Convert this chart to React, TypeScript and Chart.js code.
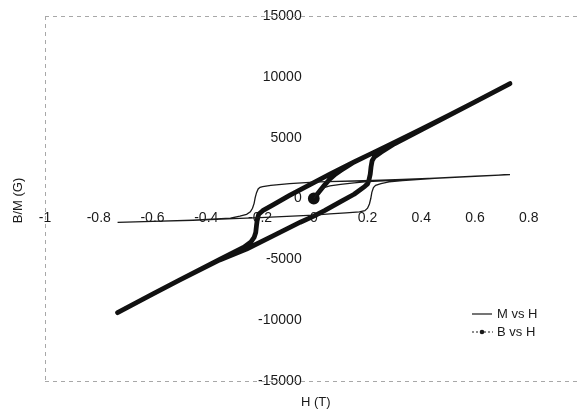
import React, { useEffect, useRef } from "react";
import { Chart, registerables } from "chart.js";

Chart.register(...registerables);

// ---- Data ----
// M vs H: initial curve, descending branch, ascending branch
const mInitH = [0, 0.01, 0.02, 0.035, 0.06, 0.1, 0.15, 0.2, 0.26, 0.33, 0.45, 0.6, 0.73];
const mInitV = [0, 350, 650, 880, 1030, 1160, 1280, 1380, 1460, 1540, 1680, 1840, 1970];
const mDownH = [0.73, 0.6, 0.45, 0.33, 0.25, 0.15, 0.05, 0, -0.09, -0.16, -0.19, -0.2, -0.207, -0.213, -0.218, -0.222, -0.228, -0.236, -0.25, -0.275, -0.31, -0.45, -0.6, -0.73];
const mDownV = [1970, 1840, 1680, 1560, 1500, 1440, 1380, 1340, 1220, 1080, 980, 920, 780, 480, 80, -400, -800, -1100, -1300, -1450, -1620, -1780, -1880, -1960];
const mUpH = [-0.73, -0.6, -0.45, -0.3, -0.2, -0.1, 0, 0.06, 0.12, 0.17, 0.19, 0.2, 0.207, 0.212, 0.216, 0.222, 0.23, 0.25, 0.28, 0.33, 0.45, 0.6, 0.73];
const mUpV = [-1960, -1880, -1790, -1650, -1580, -1470, -1360, -1260, -1180, -1100, -1000, -800, -450, 0, 500, 900, 1080, 1230, 1360, 1480, 1660, 1830, 1970];

// B vs H: initial curve, descending branch, ascending branch
const bInitH = [0, 0.02, 0.04, 0.06, 0.08, 0.1, 0.15, 0.22, 0.3, 0.4, 0.5, 0.6, 0.73];
const bInitV = [0, 550, 1100, 1600, 2000, 2300, 3000, 3750, 4600, 5700, 6800, 7950, 9450];
const bDownH = [0.73, 0.6, 0.5, 0.4, 0.3, 0.22, 0.15, 0.06, 0, -0.09, -0.15, -0.19, -0.205, -0.21, -0.213, -0.216, -0.222, -0.235, -0.26, -0.35, -0.5, -0.6, -0.73];
const bDownV = [9450, 7950, 6800, 5700, 4600, 3750, 3000, 2000, 1300, 250, -500, -1000, -1300, -1700, -2200, -2800, -3200, -3600, -4000, -5000, -6700, -7850, -9380];
const bUpH = [-0.73, -0.6, -0.5, -0.35, -0.25, -0.15, -0.05, 0, 0.04, 0.1, 0.15, 0.19, 0.2, 0.205, 0.21, 0.213, 0.217, 0.225, 0.25, 0.3, 0.4, 0.5, 0.6, 0.73];
const bUpV = [-9380, -7850, -6700, -5050, -4150, -3050, -1950, -1450, -1000, -250, 350, 1000, 1200, 1500, 2000, 2600, 3100, 3400, 3800, 4500, 5650, 6800, 7950, 9450];

const xTickValues = [-1, -0.8, -0.6, -0.4, -0.2, 0, 0.2, 0.4, 0.6, 0.8];
const xTickLabels = ["-1", "-0.8", "-0.6", "-0.4", "-0.2", "0", "0.2", "0.4", "0.6", "0.8"];
const yTickValues = [-15000, -10000, -5000, 0, 5000, 10000, 15000];
const yTickLabels = ["-15000", "-10000", "-5000", "0", "5000", "10000", "15000"];

const seriesNames = ["M vs H", "B vs H"];
const xTitle = "H (T)";
const yTitle = "B/M (G)";

const toPoints = (hs: number[][], vs: number[][]) => {
  const out: { x: number; y: number }[] = [];
  hs.forEach((h, k) => h.forEach((x, i) => out.push({ x, y: vs[k][i] })));
  return out;
};

const FONT = "'Liberation Sans', Arial, sans-serif";
const INK = "#1a1a1a";
const CANVAS_W = 586;

const decorPlugin = {
  id: "decor",
  beforeDatasetsDraw(chart: any) {
    const { ctx, chartArea } = chart;
    ctx.save();
    ctx.strokeStyle = "#a8a8a8";
    ctx.lineWidth = 1;
    ctx.setLineDash([4, 4]);
    ctx.beginPath();
    ctx.moveTo(chartArea.left, chartArea.top + 0.5);
    ctx.lineTo(chartArea.right, chartArea.top + 0.5);
    ctx.moveTo(chartArea.left, chartArea.bottom + 0.5);
    ctx.lineTo(chartArea.right, chartArea.bottom + 0.5);
    ctx.moveTo(chartArea.left + 0.5, chartArea.top);
    ctx.lineTo(chartArea.left + 0.5, chartArea.bottom);
    ctx.stroke();
    ctx.restore();
  },
  afterDraw(chart: any) {
    const { ctx, chartArea } = chart;
    ctx.save();
    ctx.fillStyle = INK;
    ctx.font = `13px ${FONT}`;
    // axis titles
    ctx.textAlign = "center";
    ctx.textBaseline = "middle";
    ctx.fillText(xTitle, chart.scales.x.getPixelForValue(0) + 2, chartArea.bottom + 21);
    ctx.save();
    ctx.translate(18, chart.scales.y.getPixelForValue(0) + 2);
    ctx.rotate(-Math.PI / 2);
    ctx.fillText(yTitle, 0, 0);
    ctx.restore();
    // legend
    const lx = 472;
    const ly1 = 314;
    const ly2 = 332;
    ctx.strokeStyle = INK;
    ctx.lineWidth = 1.2;
    ctx.beginPath();
    ctx.moveTo(lx, ly1);
    ctx.lineTo(lx + 20, ly1);
    ctx.stroke();
    ctx.setLineDash([2, 2]);
    ctx.lineWidth = 1;
    ctx.beginPath();
    ctx.moveTo(lx, ly2);
    ctx.lineTo(lx + 21, ly2);
    ctx.stroke();
    ctx.setLineDash([]);
    ctx.beginPath();
    ctx.arc(lx + 10, ly2, 2.3, 0, Math.PI * 2);
    ctx.fill();
    ctx.textAlign = "left";
    ctx.font = `13px ${FONT}`;
    ctx.fillText(seriesNames[0], lx + 25, ly1);
    ctx.fillText(seriesNames[1], lx + 25, ly2);
    ctx.restore();
  },
};

export default function App() {
  const ref = useRef<HTMLCanvasElement | null>(null);
  useEffect(() => {
    if (!ref.current) return;
    const mData = toPoints([mInitH, mDownH, mUpH], [mInitV, mDownV, mUpV]);
    const bData = toPoints([bInitH, bDownH, bUpH], [bInitV, bDownV, bUpV]);
    const chart = new Chart(ref.current, {
      type: "scatter",
      data: {
        datasets: [
          {
            label: seriesNames[0],
            data: mData,
            showLine: true,
            borderColor: INK,
            backgroundColor: INK,
            borderWidth: 1.3,
            pointRadius: 0,
            tension: 0,
          },
          {
            label: seriesNames[1],
            data: bData,
            showLine: true,
            borderColor: "#111",
            backgroundColor: "#111",
            borderWidth: 4.8,
            pointRadius: bData.map((_, i) => (i === 0 ? 3.5 : 0)),
            borderCapStyle: "round",
            borderJoinStyle: "round",
            tension: 0,
          },
        ],
      },
      options: {
        animation: false,
        responsive: false,
        layout: { padding: { left: 45, top: 16, right: 0, bottom: 30 } },
        plugins: { legend: { display: false }, tooltip: { enabled: false } },
        scales: {
          x: {
            type: "linear",
            position: { y: 0 },
            min: -1,
            max: 0.98,
            grid: { display: false, drawTicks: false },
            border: { display: false },
            afterBuildTicks: (s: any) => {
              s.ticks = xTickValues.map((v) => ({ value: v }));
            },
            ticks: {
              autoSkip: false,
              maxRotation: 0,
              padding: 11,
              color: INK,
              font: { family: FONT, size: 14 },
              callback: (v: any) => {
                const i = xTickValues.findIndex((t) => Math.abs(t - Number(v)) < 1e-6);
                return i >= 0 ? xTickLabels[i] : "";
              },
            },
          },
          y: {
            type: "linear",
            position: { x: -0.045 },
            min: -15000,
            max: 15000,
            grid: { display: false, drawTicks: false },
            border: { display: false },
            afterBuildTicks: (s: any) => {
              s.ticks = yTickValues.map((v) => ({ value: v }));
            },
            ticks: {
              autoSkip: false,
              padding: 0,
              color: INK,
              font: { family: FONT, size: 14 },
              callback: (v: any) => {
                const i = yTickValues.findIndex((t) => Math.abs(t - Number(v)) < 1e-6);
                return i >= 0 ? yTickLabels[i] : "";
              },
            },
          },
        },
      },
      plugins: [decorPlugin],
    } as any);
    return () => chart.destroy();
  }, []);

  return (
    <div style={{ position: "fixed", left: 0, top: 0, width: 577, height: 411, background: "#fff", overflow: "hidden" }}>
      <canvas ref={ref} width={CANVAS_W} height={411} style={{ display: "block", width: CANVAS_W, height: 411 }} />
    </div>
  );
}
